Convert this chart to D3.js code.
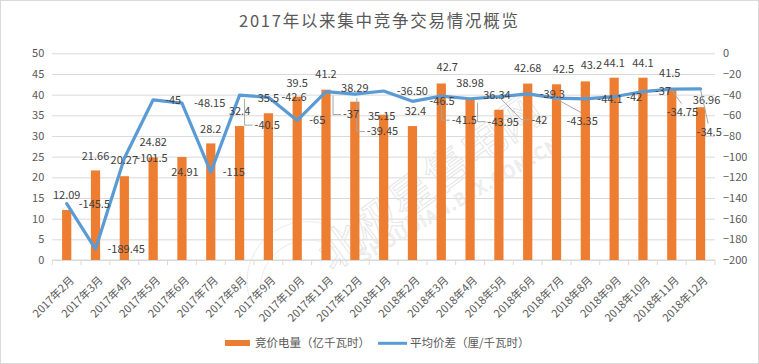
<!DOCTYPE html>
<html><head><meta charset="utf-8">
<script src="https://cdn.jsdelivr.net/npm/d3@7"></script>
<style>
body{margin:0;background:#fff}
svg{display:block}
text{font-family:"Noto Sans CJK SC","Noto Sans",sans-serif}
</style>
</head><body>
<svg id="c" width="759" height="364"></svg>
<script>
// ---------- data ----------
const categories = ["2017年2月","2017年3月","2017年4月","2017年5月","2017年6月","2017年7月","2017年8月","2017年9月","2017年10月","2017年11月","2017年12月",
  "2018年1月","2018年2月","2018年3月","2018年4月","2018年5月","2018年6月","2018年7月","2018年8月","2018年9月","2018年10月","2018年11月","2018年12月"];
const volume = [12.09,21.66,20.27,24.82,24.91,28.2,32.4,35.5,39.5,41.2,38.29,35.15,32.4,42.7,38.98,36.34,42.68,42.5,43.2,44.1,44.1,41.5,36.96];
const priceDiff = [-145.5,-189.45,-101.5,-45,-48.15,-115,-40.5,-42.6,-65,-37,-39.45,-36.5,-46.5,-41.5,-43.95,-42,-39.3,-43.35,-44.1,-42,-37,-34.75,-34.5];
const priceDiffText = ["-145.5","-189.45","-101.5","-45","-48.15","-115","-40.5","-42.6","-65","-37","-39.45","-36.50","-46.5","-41.5","-43.95","-42","-39.3","-43.35","-44.1","-42","-37","-34.75","-34.5"];
const leftTicks = [0,5,10,15,20,25,30,35,40,45,50];
const rightTicks = [0,-20,-40,-60,-80,-100,-120,-140,-160,-180,-200];
const title = "2017年以来集中竞争交易情况概览";
const seriesNames = ["竞价电量（亿千瓦时）","平均价差（厘/千瓦时）"];

// ---------- label layout nudges (placement only) ----------
const barLabelNudge = [[0,0],[0,1],[0,-1],[0,0],[3,30],[0,1],[0,0],[0,0],[0,1],[0,-1],[0,1],[-2,16],[3,0],[6,-1],[0,-1],[-2,0],[0,0],[7,0],[6,-1],[0,0],[0,0],[-2,0],[6,7.5]];
const lineLabelNudge = [[0,0],[0,0],[0,0],[0,0],[0,0],[0,0],[3,30],[1,0],[0,0],[5,23],[0,37.5],[1,0],[5,0],[-1.5,24],[5.5,23],[20.5,23],[0,0],[-2,23.5],[0,0],[0,0],[0,0],[-17,23.4],[-16,43.6]];
// 0 none, 1 elbow, 2 diagonal+horizontal, 3 diagonal to label top
const leaderType = [0,0,0,0,0,0,1,0,0,1,1,0,0,1,1,2,0,3,0,0,0,3,3];

// ---------- drawing ----------
const svg = d3.select("#c");
const X0 = 52.3, X1 = 715, Y0 = 260, Y1 = 53.3;
const x = d3.scaleBand().domain(categories).range([X0, X1]).padding(0);
const yL = d3.scaleLinear().domain([0, 50]).range([Y0, Y1]);
const yR = d3.scaleLinear().domain([-200, 0]).range([Y0, Y1]);
const cx = c => x(c) + x.bandwidth() / 2;
const FONT = '"Noto Sans CJK SC","Noto Sans",sans-serif';

svg.append("rect").attr("x",0.5).attr("y",0.5).attr("width",758).attr("height",363)
  .attr("fill","#fff").attr("stroke","#d9d9d9");

// title
svg.append("text").attr("x", 378.5).attr("y", 27).attr("text-anchor","middle")
  .attr("font-size", 16.5).attr("fill","#595959")
  .attr("textLength", 279).attr("lengthAdjust","spacing").text(title);

// left axis + gridlines
const gL = svg.append("g").attr("transform",`translate(${X0},0)`)
  .call(d3.axisLeft(yL).tickValues(leftTicks).tickSize(-(X1 - X0)).tickPadding(8));
gL.select(".domain").remove();
gL.selectAll("line").attr("stroke","#d9d9d9");
gL.selectAll("text").attr("font-size",11).attr("fill","#595959").attr("font-family",FONT);

// right axis
const gR = svg.append("g").attr("transform",`translate(${X1},0)`)
  .call(d3.axisRight(yR).tickValues(rightTicks).tickSize(0).tickPadding(8));
gR.select(".domain").remove();
gR.selectAll("text").attr("font-size",11).attr("fill","#595959").attr("font-family",FONT);

// watermark (faint)
const wm = svg.append("g");
wm.append("text").attr("transform","translate(332,272) rotate(-36)")
  .attr("font-size",44).attr("fill","none").attr("stroke","#e6e6e6").attr("stroke-width",1)
  .text("北极星售电网");
wm.append("text").attr("transform","translate(364,262) rotate(-30)")
  .attr("font-size",17).attr("fill","none").attr("stroke","#e6e6e6").attr("stroke-width",0.8)
  .attr("letter-spacing",2).text("SHOUDIAN.BJX.COM.CN");
wm.append("path").attr("d","M250,300 A60,60 0 0 1 345,235").attr("fill","none").attr("stroke","#ebebeb");
wm.append("path").attr("d","M262,300 A48,48 0 0 1 335,248").attr("fill","none").attr("stroke","#ebebeb");

// x axis
const gX = svg.append("g").attr("transform",`translate(0,${Y0})`)
  .call(d3.axisBottom(x).tickSize(0).tickPadding(0));
gX.select(".domain").remove();
gX.selectAll("text")
  .attr("font-size",11).attr("fill","#595959").attr("font-family",FONT)
  .attr("text-anchor","end").attr("dy",0).attr("y",0)
  .attr("transform","translate(8,21) rotate(-45)");
const bounds = categories.map(c => x(c)).concat([X1]);
svg.append("g").selectAll("line").data(bounds).join("line")
  .attr("x1",d=>d).attr("x2",d=>d).attr("y1",Y0).attr("y2",Y0+5).attr("stroke","#d9d9d9");
svg.append("line").attr("x1",X0).attr("x2",X1).attr("y1",Y0).attr("y2",Y0).attr("stroke","#d9d9d9");

// bars
const barW = x.bandwidth() * 0.32;
svg.append("g").selectAll("rect").data(volume).join("rect")
  .attr("x",(d,i)=>cx(categories[i]) - barW/2).attr("width",barW)
  .attr("y",d=>yL(d)).attr("height",d=>Y0 - yL(d)).attr("fill","#ed7d31");

// line
const line = d3.line().x((d,i)=>cx(categories[i])).y(d=>yR(d));
svg.append("path").datum(priceDiff).attr("d",line).attr("fill","none")
  .attr("stroke","#5b9bd5").attr("stroke-width",3.2).attr("stroke-linejoin","round").attr("stroke-linecap","round");

// bar labels
svg.append("g").selectAll("text").data(volume).join("text")
  .attr("x",(d,i)=>cx(categories[i]) + barLabelNudge[i][0])
  .attr("y",(d,i)=>yL(d) - 15 + barLabelNudge[i][1])
  .attr("dy","0.35em").attr("text-anchor","middle").attr("font-size",11).attr("fill","#404040")
  .text(d=>String(d));

// line labels + leader lines
const leaders = svg.append("g");
const lblG = svg.append("g");
priceDiff.forEach((v,i)=>{
  const px = cx(categories[i]), py = yR(v);
  const lx = px + 12 + lineLabelNudge[i][0], ly = py + lineLabelNudge[i][1];
  const t = lblG.append("text").attr("x",lx).attr("y",ly).attr("dy","0.35em")
    .attr("font-size",11).attr("fill","#404040").text(priceDiffText[i]);
  const w = t.node().getComputedTextLength();
  let d = null;
  if (leaderType[i] === 1) d = `M${lx-10},${py+4}V${ly}H${lx-2}`;
  else if (leaderType[i] === 2) d = `M${px+1},${py+1}L${lx-10},${ly}H${lx-2}`;
  else if (leaderType[i] === 3) d = `M${px},${py+1}L${lx + w/2 - 1},${ly-9}`;
  if (d) leaders.append("path").attr("d",d).attr("fill","none").attr("stroke","#a6a6a6").attr("stroke-width",1);
});

// legend
const lg = svg.append("g");
lg.append("rect").attr("x",225).attr("y",340).attr("width",25).attr("height",6).attr("fill","#ed7d31");
lg.append("text").attr("x",255).attr("y",343.3).attr("dy","0.35em").attr("font-size",11.5).attr("fill","#595959").text(seriesNames[0]);
lg.append("line").attr("x1",378).attr("x2",407).attr("y1",343.3).attr("y2",343.3).attr("stroke","#5b9bd5").attr("stroke-width",3);
lg.append("text").attr("x",410).attr("y",343.3).attr("dy","0.35em").attr("font-size",11.5).attr("fill","#595959").text(seriesNames[1]);
</script>
</body></html>
